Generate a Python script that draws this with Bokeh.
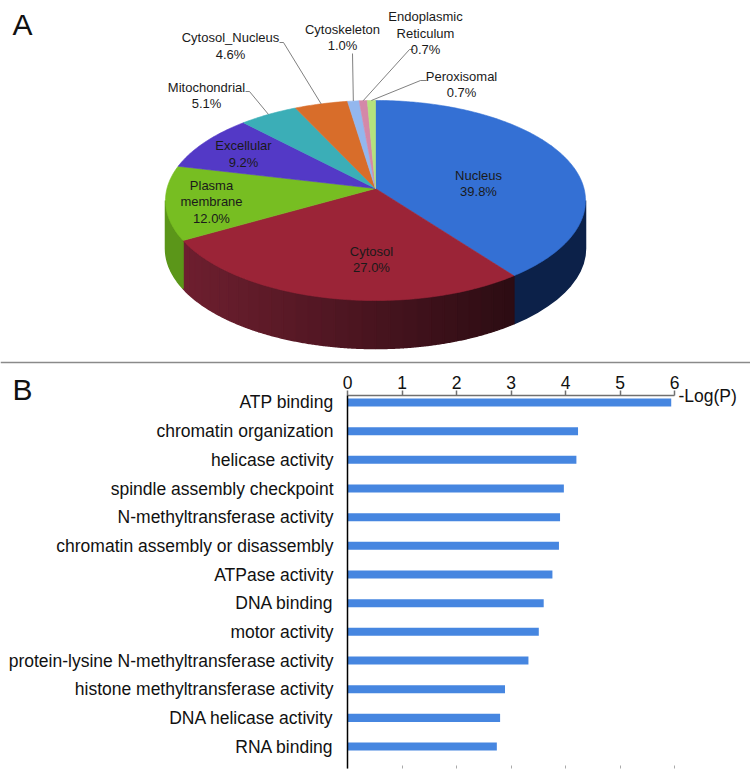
import math
import numpy as np
from bokeh.plotting import figure
from bokeh.models import Range1d, Span, Label, FixedTicker, LinearAxis
from bokeh.embed import file_html
from bokeh.resources import INLINE
from bokeh.core.properties import value

# ---------------- data ----------------
locations = ["Nucleus", "Cytosol", "Plasma membrane", "Excellular", "Mitochondrial",
             "Cytosol_Nucleus", "Cytoskeleton", "Endoplasmic Reticulum", "Peroxisomal"]
loc_pct = [39.8, 27.0, 12.0, 9.2, 5.1, 4.6, 1.0, 0.7, 0.7]

go_terms = ["ATP binding", "chromatin organization", "helicase activity",
            "spindle assembly checkpoint", "N-methyltransferase activity",
            "chromatin assembly or disassembly", "ATPase activity", "DNA binding",
            "motor activity", "protein-lysine N-methyltransferase activity",
            "histone methyltransferase activity", "DNA helicase activity", "RNA binding"]
go_logp = [5.94, 4.23, 4.20, 3.97, 3.90, 3.88, 3.76, 3.60, 3.51, 3.32, 2.89, 2.80, 2.74]
x_ticks = [0, 1, 2, 3, 4, 5, 6]

# ---------------- styles ----------------
FONT = "Liberation Sans"
top_colors = ["#3470D4", "#9B2437", "#77BE22", "#5339C6", "#3BAEB7",
              "#D86D2A", "#93B7EE", "#D488A8", "#B4E27D"]
side_colors = ["#0C2149", None, "#5B9619", "#2E1F70", "#236870",
               "#8A4218", "#5E7AA8", "#8A5068", "#78A050"]
cyto_side_left = np.array([0x6E, 0x1F, 0x2F])
cyto_side_right = np.array([0x2C, 0x0C, 0x13])

# pie geometry (perspective ellipse)
CX, CY, RX, RY, K, D = 375.0, 188.0, 208.5, 98.6, 0.12, 48.0


def rim(f, r=1.0):
    t = 2 * math.pi * f
    u, v = math.sin(t), -math.cos(t)
    s = 1.0 / (1.0 - K * v * r)
    return CX + RX * r * u * s, CY + RY * r * v * s


# label layout (annotation positions, centre of text block) and leader elbows
label_layout = {
    "Nucleus": (478, 183, None),
    "Cytosol": (371, 259, None),
    "Plasma membrane": (211, 201, None),
    "Excellular": (243, 153.5, None),
    "Mitochondrial": (206, 95, [(245, 91), (249, 91)]),
    "Cytosol_Nucleus": (230, 45.5, [(279, 42), (283, 42)]),
    "Cytoskeleton": (342, 37, [(352, 53)]),
    "Endoplasmic Reticulum": (425, 32.5, [(413, 49), (409, 49)]),
    "Peroxisomal": (461, 84, [(426, 80), (420, 80)]),
}

# ---------------- panel A: 3D pie (canvas also carries the "B" panel letter) ----------------
P1H = 405
OVERLAP = 42
p1 = figure(width=750, height=P1H, x_range=Range1d(0, 750), y_range=Range1d(P1H, 0),
            x_axis_location=None, y_axis_location=None, output_backend="svg",
            toolbar_location=None, min_border=0)
p1.grid.visible = False
p1.outline_line_color = None

total = sum(loc_pct)
cum = np.concatenate([[0.0], np.cumsum(loc_pct) / total])
F1 = math.acos(-K) / (2 * math.pi)
F2 = 1.0 - F1

side_xs, side_ys, side_cs = [], [], []
for i in range(len(locations)):
    a, b = cum[i], cum[i + 1]
    lo, hi = max(a, F1), min(b, F2)
    if lo >= hi:
        continue
    if side_colors[i] is None:
        edges = np.linspace(lo, hi, 30)
    else:
        edges = np.array([lo, hi])
    for j in range(len(edges) - 1):
        fs = np.linspace(edges[j], edges[j + 1], 12)
        pts = [rim(f) for f in fs]
        xs = [p[0] for p in pts] + [p[0] for p in pts[::-1]]
        ys = [p[1] for p in pts] + [p[1] + D for p in pts[::-1]]
        if side_colors[i] is None:
            xm = sum(p[0] for p in pts) / len(pts)
            w = min(max((xm - 182) / (513 - 182), 0), 1)
            c = (1 - w) * cyto_side_left + w * cyto_side_right
            col = "#%02x%02x%02x" % tuple(int(round(x)) for x in c)
        else:
            col = side_colors[i]
        side_xs.append(xs)
        side_ys.append(ys)
        side_cs.append(col)

p1.patches(side_xs, side_ys, fill_color=side_cs, line_color=side_cs, line_width=1.5)

top_xs, top_ys = [], []
for i in range(len(locations)):
    n = max(4, int((cum[i + 1] - cum[i]) * 400))
    fs = np.linspace(cum[i], cum[i + 1], n)
    pts = [rim(f) for f in fs]
    top_xs.append([CX] + [p[0] for p in pts])
    top_ys.append([CY] + [p[1] for p in pts])
p1.patches(top_xs, top_ys, fill_color=top_colors, line_color=top_colors, line_width=0.6)

# labels and leader lines
lx, ly, lt = [], [], []
lead_xs, lead_ys = [], []
for i, name in enumerate(locations):
    tx, ty, elbow = label_layout[name]
    lx.append(tx)
    ly.append(ty)
    lt.append(name.replace(" ", "\n") + "\n" + f"{loc_pct[i]:.1f}%")
    if elbow:
        ex, ey = rim((cum[i] + cum[i + 1]) / 2)
        lead_xs.append([e[0] for e in elbow] + [ex])
        lead_ys.append([e[1] for e in elbow] + [ey])

p1.multi_line(lead_xs, lead_ys, line_color="#606060", line_width=0.8)
p1.text(x=lx, y=ly, text=lt, text_align="center", text_baseline="middle",
        text_font=value(FONT), text_font_size="13px", text_color="#1a1a1a",
        text_line_height=1.1)

p1.add_layout(Label(x=12, y=24, text="A", text_font=FONT, text_font_size="30px",
                    text_baseline="middle", text_align="left", text_color="#111111"))
p1.add_layout(Label(x=12, y=389, text="B", text_font=FONT, text_font_size="30px",
                    text_baseline="middle", text_align="left", text_color="#111111"))
p1.add_layout(Span(location=362, dimension="width", line_color="#8a8a8a", line_width=1.5))

# ---------------- panel B: bar chart ----------------
rows = list(range(len(go_terms)))
P2H = 406
p2 = figure(width=750, height=P2H, x_range=Range1d(0, 6), y_range=Range1d(12.766, -0.244),
            x_axis_location="above", output_backend="svg", toolbar_location=None,
            min_border_left=347, min_border_right=76, min_border_top=32, min_border_bottom=1)
p2.grid.visible = False
p2.outline_line_color = None
p2.background_fill_color = None
p2.border_fill_color = None
p2.styles = {"margin-top": f"-{OVERLAP}px"}
p2.hbar(y=rows, left=0, right=go_logp, height=0.28, fill_color="#4686E0", line_color=None)

xa = p2.xaxis[0]
xa.ticker = FixedTicker(ticks=x_ticks)
xa.major_label_text_font = FONT
xa.major_label_text_font_size = "17.5px"
xa.major_label_text_color = "#111111"
xa.axis_line_color = "#707070"
xa.axis_line_width = 1.5
xa.major_tick_line_color = "#707070"
xa.major_tick_line_width = 1.5
xa.major_tick_out = 5
xa.major_tick_in = 0
xa.minor_tick_line_color = None
xa.major_label_standoff = 2

bottom_ax = LinearAxis(ticker=FixedTicker(ticks=x_ticks), axis_line_color=None,
                       major_tick_in=3, major_tick_out=0, major_tick_line_color="#aaaaaa",
                       minor_tick_line_color=None, major_label_text_font_size="1px",
                       major_label_text_alpha=0, major_label_standoff=0)
p2.add_layout(bottom_ax, "below")

ya = p2.yaxis[0]
ya.ticker = FixedTicker(ticks=rows)
ya.major_label_overrides = {i: t for i, t in zip(rows, go_terms)}
ya.major_tick_line_color = None
ya.major_tick_out = 0
ya.major_tick_in = 0
ya.minor_tick_line_color = None
ya.minor_tick_out = 0
ya.axis_line_color = "#000000"
ya.axis_line_width = 1.5
ya.major_label_text_font = FONT
ya.major_label_text_font_size = "17.5px"
ya.major_label_text_color = "#111111"
ya.major_label_standoff = 14

# "-Log(P)" as the label of a tick-less right axis
right_ax = LinearAxis(ticker=FixedTicker(ticks=[-0.24]),
                      major_label_overrides={-0.24: "-Log(P)"},
                      axis_line_color=None, major_tick_line_color=None,
                      minor_tick_line_color=None, major_tick_out=0, major_tick_in=0,
                      major_label_standoff=4,
                      major_label_text_font=FONT, major_label_text_font_size="17.5px",
                      major_label_text_color="#111111")
p2.add_layout(right_ax, "right")

open("out.html", "w").write(file_html([p1, p2], INLINE))
